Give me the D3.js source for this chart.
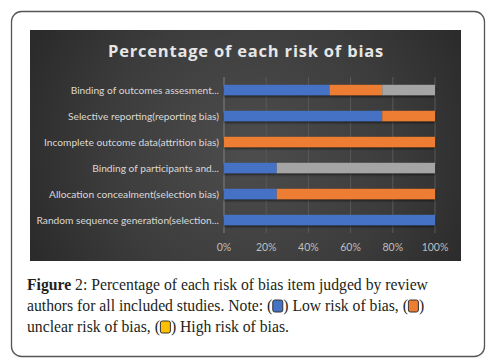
<!DOCTYPE html>
<html>
  <head>
    <script src="https://cdn.jsdelivr.net/npm/d3@7/dist/d3.min.js" charset="utf-8"></script>
    <style>
      body { margin: 0; background: #fff; }
    </style>
  </head>
  <body>
    <svg id="chart" width="497" height="361"></svg>
    <script>
      // categories, top to bottom as drawn
      var categories = [
        "Binding of outcomes assesment...",
        "Selective reporting(reporting bias)",
        "Incomplete outcome data(attrition bias)",
        "Binding of participants and...",
        "Allocation concealment(selection bias)",
        "Random sequence generation(selection..."
      ];
      var lowRisk     = [0.50, 0.75, 0.00, 0.25, 0.25, 1.00];
      var unclearRisk = [0.25, 0.25, 1.00, 0.00, 0.75, 0.00];
      var highRisk    = [0.25, 0.00, 0.00, 0.75, 0.00, 0.00];
      var seriesNames = ["Low", "Unclear", "High"];
      var seriesColors = ["#4472c4", "#ed7d31", "#a5a5a5"];
      var xTicks = [0, 0.2, 0.4, 0.6, 0.8, 1.0];

      var svg = d3.select("#chart");
      var defs = svg.append("defs");

      // outer figure box
      svg.append("rect")
        .attr("x", 11.5).attr("y", 11.5).attr("width", 473).attr("height", 345)
        .attr("rx", 10).attr("fill", "#fff").attr("stroke", "#555").attr("stroke-width", 1.3);

      // dark chart panel with radial glow
      var grad = defs.append("radialGradient").attr("id", "bg")
        .attr("gradientUnits", "userSpaceOnUse")
        .attr("cx", 250).attr("cy", 150).attr("r", 240);
      grad.append("stop").attr("offset", "0%").attr("stop-color", "#4d4d4d");
      grad.append("stop").attr("offset", "60%").attr("stop-color", "#3b3c3b");
      grad.append("stop").attr("offset", "100%").attr("stop-color", "#2a2b2a");

      svg.append("rect")
        .attr("x", 30).attr("y", 30).attr("width", 431).attr("height", 231)
        .attr("fill", "url(#bg)");

      var shadow = defs.append("filter").attr("id", "shadow")
        .attr("x", "-5%").attr("y", "-50%").attr("width", "110%").attr("height", "200%");
      shadow.append("feDropShadow").attr("dx", 0).attr("dy", 1.5)
        .attr("stdDeviation", 1).attr("flood-color", "#000").attr("flood-opacity", 0.6);

      svg.append("text")
        .attr("x", 246).attr("y", 57)
        .attr("text-anchor", "middle")
        .attr("fill", "#e6e6e6")
        .style("font-family", "'Open Sans', sans-serif")
        .style("font-weight", "bold")
        .style("font-size", "16.5px")
        .style("letter-spacing", "0.8px")
        .text("Percentage of each risk of bias");

      var x = d3.scaleLinear().domain([0, 1]).range([224, 435]);
      var y = d3.scaleBand().domain(categories).range([77, 233]).paddingInner(0.6).paddingOuter(0.3);

      // gridlines
      svg.append("g").selectAll("line").data(xTicks.slice(1)).enter().append("line")
        .attr("x1", d => x(d)).attr("x2", d => x(d))
        .attr("y1", 77).attr("y2", 233)
        .attr("stroke", "#595959").attr("stroke-width", 1);

      svg.append("line")
        .attr("x1", x(0)).attr("x2", x(0)).attr("y1", 77).attr("y2", 233)
        .attr("stroke", "#808080").attr("stroke-width", 1);

      // stacked bars
      var rows = categories.map((c, i) => ({cat: c, Low: lowRisk[i], Unclear: unclearRisk[i], High: highRisk[i]}));
      var stacked = d3.stack().keys(seriesNames)(rows);

      svg.append("g").attr("filter", "url(#shadow)")
        .selectAll("g").data(stacked).enter().append("g")
        .attr("fill", (d, i) => seriesColors[i])
        .selectAll("rect").data(d => d).enter().append("rect")
        .attr("x", d => x(d[0]))
        .attr("width", d => x(d[1]) - x(d[0]))
        .attr("y", d => y(d.data.cat))
        .attr("height", y.bandwidth());

      // category labels
      svg.append("g").selectAll("text").data(categories).enter().append("text")
        .attr("x", 219)
        .attr("y", d => y(d) + y.bandwidth() / 2 + 3.5)
        .attr("text-anchor", "end")
        .attr("fill", "#d9d9d9")
        .style("font-family", "Lato, sans-serif")
        .style("font-size", "10.2px")
        .text(d => d);

      // x tick labels
      svg.append("g").selectAll("text").data(xTicks).enter().append("text")
        .attr("x", d => x(d))
        .attr("y", 251)
        .attr("text-anchor", "middle")
        .attr("fill", "#bfbfbf")
        .style("font-family", "Lato, sans-serif")
        .style("font-size", "10.5px")
        .text(d => d3.format(".0%")(d));

      // caption with inline swatches
      var captionLines = [
        [{t: "Figure", b: true}, {t: " 2: Percentage of each risk of bias item judged by review"}],
        [{t: "authors for all included studies. Note: ("}, {sw: "#4472c4"}, {t: ") Low risk of bias, ("}, {sw: "#ed7d31"}, {t: ")"}],
        [{t: "unclear risk of bias, ("}, {sw: "#ffc000"}, {t: ") High risk of bias."}]
      ];
      var capY = [290, 311, 332];

      captionLines.forEach(function (segs, li) {
        var cx = 27;
        segs.forEach(function (s) {
          if (s.sw) {
            svg.append("rect")
              .attr("x", cx + 0.5).attr("y", capY[li] - 11)
              .attr("width", 10).attr("height", 12).attr("rx", 2)
              .attr("fill", s.sw).attr("stroke", "#333").attr("stroke-width", 1);
            cx += 11;
          } else {
            var t = svg.append("text")
              .attr("x", cx).attr("y", capY[li])
              .attr("fill", "#231f20")
              .style("font-family", "'Liberation Serif', serif")
              .style("font-size", "15.7px")
              .style("font-weight", s.b ? "bold" : "normal")
              .style("white-space", "pre")
              .attr("xml:space", "preserve")
              .text(s.t);
            cx += t.node().getComputedTextLength();
          }
        });
      });
    </script>
  </body>
</html>
